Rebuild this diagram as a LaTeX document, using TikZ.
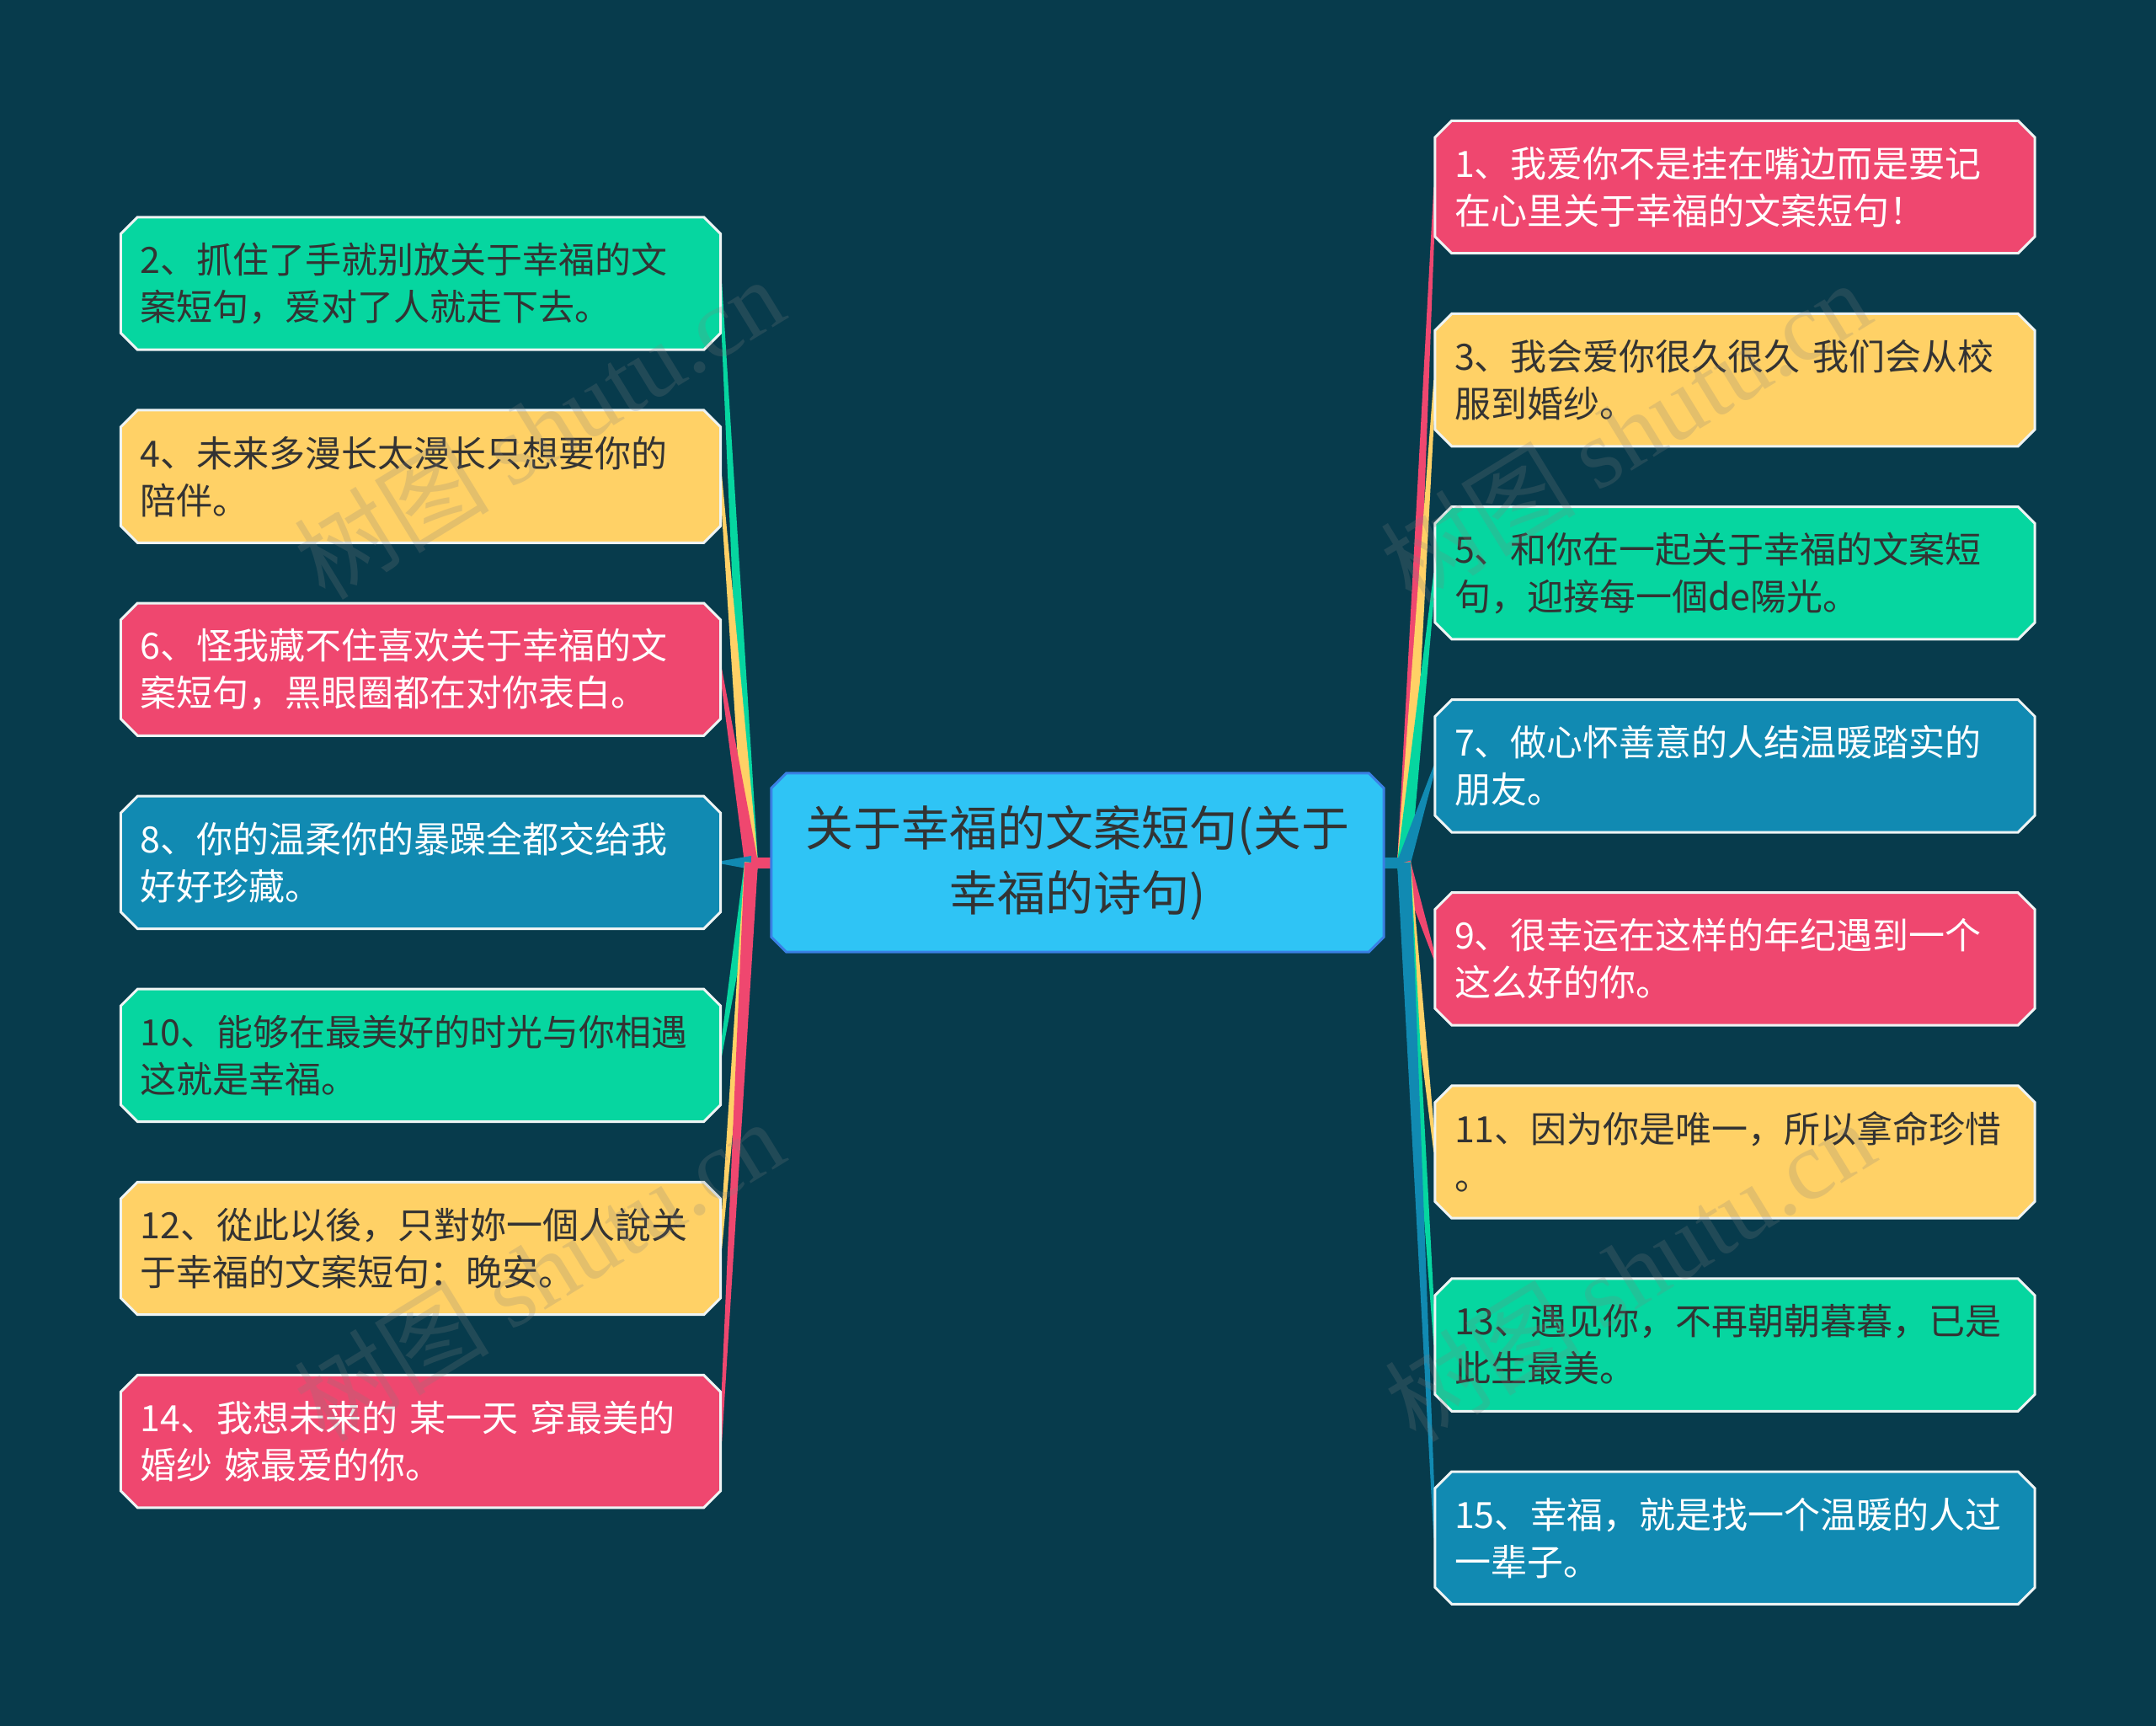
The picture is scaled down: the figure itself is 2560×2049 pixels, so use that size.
\documentclass[tikz,border=0pt]{standalone}
\usepackage{fontspec}
\newfontfamily\cjk{Noto Sans CJK SC}
\newfontfamily\wmserif{Liberation Serif}
\usetikzlibrary{calc}
\pgfdeclarelayer{bg}
\pgfsetlayers{bg,main}
\definecolor{bgc}{HTML}{073B4C}
\definecolor{cred}{HTML}{EF476F}
\definecolor{cyel}{HTML}{FFD166}
\definecolor{cgrn}{HTML}{06D6A0}
\definecolor{cblu}{HTML}{118AB2}
\definecolor{cctr}{HTML}{2FC4F5}
\definecolor{cctrb}{HTML}{3A80E4}
\definecolor{dtext}{HTML}{333333}
\definecolor{bline}{HTML}{EEF4F4}
\definecolor{wmc}{HTML}{808080}

\tikzset{
 side/.style={minimum width=712pt, minimum height=157pt, text width=666pt, align=left, inner sep=0pt, font=\cjk\fontsize{43}{56}\selectfont},
 dk/.style={side, text=dtext},
 wt/.style={side, text=white},
 ctr/.style={minimum width=727pt, minimum height=212pt, inner sep=0pt, align=center, text=dtext, font=\cjk\fontsize{57}{77}\selectfont},
 wmark/.style={rotate=31.5, text=wmc, opacity=0.22, inner sep=0pt, font=\cjk\fontsize{116}{116}\selectfont},
}

\newcommand\chbox[4]{%
 \path[fill=#2, draw=#3, line width=3pt, line join=miter]
 ([xshift=#4]#1.north west) -- ([xshift=-#4]#1.north east) -- ([yshift=-#4]#1.north east) -- ([yshift=#4]#1.south east) -- ([xshift=-#4]#1.south east) -- ([xshift=#4]#1.south west) -- ([yshift=#4]#1.south west) -- ([yshift=-#4]#1.north west) -- cycle;}

\newcommand\conn[4]{%
 \fill[#1] ($(#2)!8pt!90:(#3)$) -- ($(#3)!1.5pt!-90:(#2)$) -- ($(#3)!1.5pt!90:(#2)$) -- ($(#2)!8pt!-90:(#3)$) -- cycle;
 \draw[#1, line width=13pt] (#4) -- (#2);}

\begin{document}
\begin{tikzpicture}[x=1pt,y=-1pt]
\useasboundingbox (0,0) rectangle (2560,2049);

\node[ctr] (c) at (1279.5,1024) {关于幸福的文案短句(关于\\幸福的诗句)};
\coordinate (jl) at (892,1024);
\coordinate (jr) at (1667,1024);

% left
\node[dk] (b2)  at (499.5,336.5)  {2、抓住了手就别放关于幸福的文\\案短句，爱对了人就走下去。};
\node[dk] (b4)  at (499.5,565.6)  {4、未来多漫长太漫长只想要你的\\陪伴。};
\node[wt] (b6)  at (499.5,794.7)  {6、怪我藏不住喜欢关于幸福的文\\案短句，黑眼圈都在对你表白。};
\node[wt] (b8)  at (499.5,1023.8) {8、你的温柔你的暴躁全都交给我\\好好珍藏。};
\node[dk] (b10) at (499.5,1252.9) {10、能够在最美好的时光与你相遇\\这就是幸福。};
\node[dk] (b12) at (499.5,1482)   {12、從此以後，只對妳一個人說关\\于幸福的文案短句：晚安。};
\node[wt] (b14) at (499.5,1711.1) {14、我想未来的 某一天 穿最美的\\婚纱 嫁最爱的你。};

% right
\node[wt] (b1)  at (2060,222)    {1、我爱你不是挂在嘴边而是要记\\在心里关于幸福的文案短句！};
\node[dk] (b3)  at (2060,451.1)  {3、我会爱你很久很久 我们会从校\\服到婚纱。};
\node[dk] (b5)  at (2060,680.2)  {5、和你在一起关于幸福的文案短\\句，迎接每一個de陽光。};
\node[wt] (b7)  at (2060,909.3)  {7、做心怀善意的人结温暖踏实的\\朋友。};
\node[wt] (b9)  at (2060,1138.4) {9、很幸运在这样的年纪遇到一个\\这么好的你。};
\node[dk] (b11) at (2060,1367.5) {11、因为你是唯一，所以拿命珍惜\\。};
\node[dk] (b13) at (2060,1596.6) {13、遇见你，不再朝朝暮暮，已是\\此生最美。};
\node[wt] (b15) at (2060,1825.7) {15、幸福，就是找一个温暖的人过\\一辈子。};

\begin{pgfonlayer}{bg}
\fill[bgc] (0,0) rectangle (2560,2049);
\conn{cgrn}{jl}{b2.east}{c.west}
\conn{cyel}{jl}{b4.east}{c.west}
\conn{cred}{jl}{b6.east}{c.west}
\conn{cblu}{jl}{b8.east}{c.west}
\conn{cgrn}{jl}{b10.east}{c.west}
\conn{cyel}{jl}{b12.east}{c.west}
\conn{cred}{jl}{b14.east}{c.west}
\conn{cred}{jr}{b1.west}{c.east}
\conn{cyel}{jr}{b3.west}{c.east}
\conn{cgrn}{jr}{b5.west}{c.east}
\conn{cblu}{jr}{b7.west}{c.east}
\conn{cred}{jr}{b9.west}{c.east}
\conn{cyel}{jr}{b11.west}{c.east}
\conn{cgrn}{jr}{b13.west}{c.east}
\conn{cblu}{jr}{b15.west}{c.east}
\chbox{c}{cctr}{cctrb}{18pt}
\chbox{b2}{cgrn}{bline}{20pt}
\chbox{b4}{cyel}{bline}{20pt}
\chbox{b6}{cred}{bline}{20pt}
\chbox{b8}{cblu}{bline}{20pt}
\chbox{b10}{cgrn}{bline}{20pt}
\chbox{b12}{cyel}{bline}{20pt}
\chbox{b14}{cred}{bline}{20pt}
\chbox{b1}{cred}{bline}{20pt}
\chbox{b3}{cyel}{bline}{20pt}
\chbox{b5}{cgrn}{bline}{20pt}
\chbox{b7}{cblu}{bline}{20pt}
\chbox{b9}{cred}{bline}{20pt}
\chbox{b11}{cyel}{bline}{20pt}
\chbox{b13}{cgrn}{bline}{20pt}
\chbox{b15}{cblu}{bline}{20pt}
\end{pgfonlayer}

\node[wmark] (wm1) at (640,508)   {树图 {\wmserif shutu.cn}};
\node[wmark] (wm2) at (640,1508)  {树图 {\wmserif shutu.cn}};
\node[wmark] (wm3) at (1930,512)  {树图 {\wmserif shutu.cn}};
\node[wmark] (wm4) at (1935,1508) {树图 {\wmserif shutu.cn}};
\end{tikzpicture}
\end{document}
